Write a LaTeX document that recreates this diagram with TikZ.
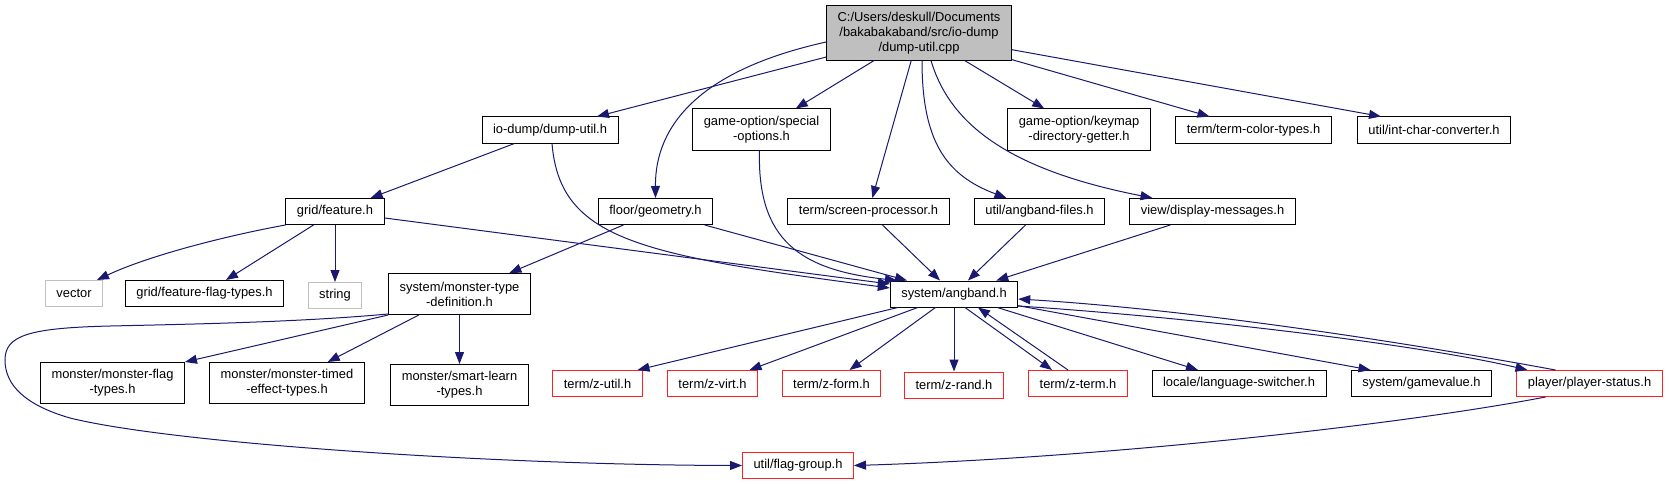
\documentclass[tikz,border=0pt]{standalone}
\usepackage{fontspec}
\setmainfont{Liberation Sans}
\usepackage{tikz}
\usetikzlibrary{arrows.meta, positioning, calc}
\definecolor{edgeblue}{HTML}{191970}
\definecolor{rootgray}{HTML}{BFBFBF}
\definecolor{extgray}{HTML}{C0C0C0}
\definecolor{missred}{HTML}{FF2020}

\begin{document}
\begin{tikzpicture}[
    x=1pt, y=-1pt,
    every node/.style={font={\fontsize{12.9}{15}\selectfont}},
    hdr/.style={draw=black, fill=white, line width=1pt, inner xsep=11pt,
                inner ysep=6pt, minimum height=26pt, align=center},
    tall/.style={hdr, minimum height=41pt},
    srcfile/.style={hdr, fill=rootgray, minimum height=54pt},
    sysinc/.style={hdr, draw=extgray},
    nodoc/.style={hdr, draw=missred},
    arr/.style={-{Triangle[length=12pt,width=9pt]}, edgeblue, line width=1pt}
]
    \fill[white] (0,0) rectangle (1669,484);
    \useasboundingbox (0,0) rectangle (1669,484);

    \node[srcfile] (root) at (919,33)
        {C:/Users/deskull/Documents\\/bakabakaband/src/io-dump\\/dump-util.cpp};

    \node[hdr] (dumputil) at (550,130) {io-dump/dump-util.h};
    \node[tall] (specopt) at (761.5,129.5) {game-option/special\\-options.h};
    \node[tall] (keymap) at (1079,129.5) {game-option/keymap\\-directory-getter.h};
    \node[hdr] (colortypes) at (1253.5,130) {term/term-color-types.h};
    \node[hdr] (intchar) at (1434,130) {util/int-char-converter.h};

    \node[hdr] (feature) at (335,211.5) {grid/feature.h};
    \node[hdr] (geometry) at (655.5,211.5) {floor/geometry.h};
    \node[hdr] (screenproc) at (868.5,211.5) {term/screen-processor.h};
    \node[hdr] (angfiles) at (1039.5,211.5) {util/angband-files.h};
    \node[hdr] (dispmsg) at (1212.5,211.5) {view/display-messages.h};

    \node[sysinc] (vector) at (74,293.5) {vector};
    \node[hdr] (flagtypes) at (204.5,293.5) {grid/feature-flag-types.h};
    \node[sysinc, below=57pt of feature] (string) {string};
    \node[tall] (monsterdef) at (459.5,294) {system/monster-type\\-definition.h};
    \node[hdr] (angband) at (954,294) {system/angband.h};

    \node[tall] (mflag) at (112.5,383) {monster/monster-flag\\-types.h};
    \node[tall] (mtimed) at (287,383) {monster/monster-timed\\-effect-types.h};
    \node[tall, below=49pt of monsterdef] (smartlearn) {monster/smart-learn\\-types.h};
    \node[nodoc] (zutil) at (597.5,383.5) {term/z-util.h};
    \node[nodoc] (zvirt) at (712.5,383.5) {term/z-virt.h};
    \node[nodoc] (zform) at (831.5,383.5) {term/z-form.h};
    \node[nodoc, below=64pt of angband] (zrand) {term/z-rand.h};
    \node[nodoc] (zterm) at (1078,383.5) {term/z-term.h};
    \node[hdr] (langsw) at (1239,383.5) {locale/language-switcher.h};
    \node[hdr] (gamevalue) at (1421.5,383.5) {system/gamevalue.h};
    \node[nodoc] (playerstatus) at (1589.5,383.5) {player/player-status.h};

    \node[nodoc] (flaggroup) at (798,465.5) {util/flag-group.h};

    \draw[arr] (root) -- ([xshift=47pt]dumputil.north);
    \draw[arr] (root) -- (specopt);
    \draw[arr] ([yshift=-9pt]root.west) .. controls (700,70) and (655,125) .. (geometry.north);
    \draw[arr] (root) -- (screenproc);
    \draw[arr] ([xshift=3pt]root.south) .. controls (922,140) and (945,175) .. ([xshift=-33pt]angfiles.north);
    \draw[arr] ([xshift=12pt]root.south) .. controls (950,125) and (1010,170) .. ([xshift=-60pt]dispmsg.north);
    \draw[arr] (root) -- (keymap);
    \draw[arr] (root) -- ([xshift=-44pt]colortypes.north);
    \draw[arr] (root) -- ([xshift=-53pt]intchar.north);

    \draw[arr] (dumputil) -- (feature);
    \draw[arr] ([xshift=2pt]dumputil.south) .. controls (560,240) and (640,255) .. ([yshift=6pt]angband.west);
    \draw[arr] ([xshift=-2pt]specopt.south) .. controls (757,240) and (800,270) .. ([xshift=-57pt]angband.north);

    \draw[arr] (feature.south west) .. controls (230,235) and (150,255) .. ([xshift=23pt]vector.north);
    \draw[arr] (feature) -- (flagtypes);
    \draw[arr] (feature) -- (string);
    \draw[arr] (feature) -- ([yshift=10pt]angband.west);

    \draw[arr] (geometry) -- (monsterdef);
    \draw[arr] (geometry) -- ([xshift=-47pt]angband.north);
    \draw[arr] (screenproc) -- (angband);
    \draw[arr] (angfiles) -- (angband);
    \draw[arr] (dispmsg) -- (angband);

    \draw[arr] (monsterdef.south west) -- (mflag.north east);
    \draw[arr] (monsterdef) -- (mtimed);
    \draw[arr] (monsterdef) -- (smartlearn);
    \draw[arr] ([yshift=1pt]monsterdef.south west) .. controls (300,322) and (200,324) .. (110,326)
        .. controls (30,328) and (5,335) .. (5,360)
        .. controls (5,385) and (25,405) .. (70,418)
        .. controls (175,444) and (500,465) .. (flaggroup.west);

    \draw[arr] (angband) -- ([xshift=40pt]zutil.north);
    \draw[arr] (angband) -- ([xshift=37pt]zvirt.north);
    \draw[arr] (angband) -- ([xshift=18pt]zform.north);
    \draw[arr] (angband) -- (zrand);
    \draw[arr] ([xshift=11pt]angband.south) -- ([xshift=-26pt]zterm.north);
    \draw[arr] ([xshift=-10pt]zterm.north) -- ([xshift=24pt]angband.south);
    \draw[arr] (angband) -- ([xshift=-41pt]langsw.north);
    \draw[arr] (angband) -- ([xshift=-51pt]gamevalue.north);
    \draw[arr] ([yshift=-12pt]angband.east) .. controls (1200,318) and (1420,345) .. ([xshift=-62pt]playerstatus.north);
    \draw[arr] ([xshift=-34pt]playerstatus.north) .. controls (1420,345) and (1200,310) .. ([yshift=-5pt]angband.east);

    \draw[arr] ([xshift=-44pt]playerstatus.south) .. controls (1400,425) and (1100,458) .. (flaggroup.east);
\end{tikzpicture}
\end{document}
